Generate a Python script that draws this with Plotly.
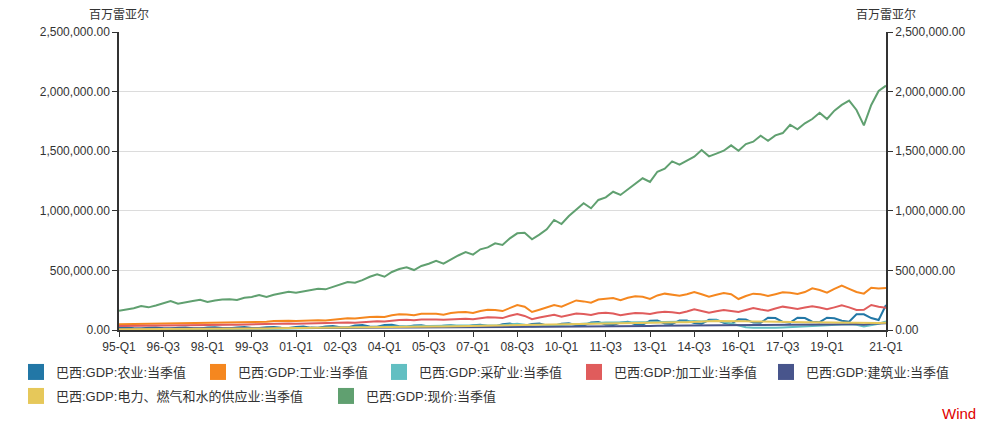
import plotly.graph_objects as go

# ---------------- data ----------------
quarters = [f"{y % 100:02d}-Q{q}" for y in range(1995, 2022) for q in range(1, 5)][:105]

tick_labels = ["95-Q1", "96-Q3", "98-Q1", "99-Q3", "01-Q1", "02-Q3", "04-Q1", "05-Q3",
               "07-Q1", "08-Q3", "10-Q1", "11-Q3", "13-Q1", "14-Q3", "16-Q1", "17-Q3",
               "19-Q1", "21-Q1"]

series_names = [
    "巴西:GDP:农业:当季值",
    "巴西:GDP:工业:当季值",
    "巴西:GDP:采矿业:当季值",
    "巴西:GDP:加工业:当季值",
    "巴西:GDP:建筑业:当季值",
    "巴西:GDP:电力、燃气和水的供应业:当季值",
    "巴西:GDP:现价:当季值",
]

# values in thousands of millions of BRL (multiplied by 1000 when drawn)
agri = [18, 20, 14, 12, 18, 22, 15, 13, 19, 22, 15, 13, 20, 23, 16, 14,
        22, 25, 17, 16, 23, 26, 18, 16, 26, 30, 20, 19, 30, 34, 24, 22,
        38, 42, 30, 28, 42, 44, 32, 28, 38, 40, 30, 27, 36, 40, 31, 28,
        40, 45, 33, 30, 48, 55, 38, 35, 50, 55, 38, 35, 52, 57, 40, 38,
        62, 66, 46, 42, 62, 68, 48, 44, 78, 80, 55, 50, 80, 80, 58, 52,
        85, 86, 60, 50, 90, 88, 62, 60, 103, 100, 68, 62, 103, 100, 70, 66,
        103, 98, 78, 70, 132, 132, 100, 84, 210]

industry = [48, 49, 51, 52, 50, 54, 56, 57, 55, 58, 60, 61, 58, 60, 62, 62,
            61, 64, 67, 70, 69, 75, 78, 78, 76, 79, 81, 82, 80, 88, 92, 98,
            96, 104, 110, 112, 110, 124, 132, 130, 123, 137, 138, 137, 128, 142, 148, 150,
            143, 160, 170, 168, 159, 185, 210, 195, 151, 170, 190, 210, 196, 225, 248, 240,
            229, 255, 262, 268, 249, 270, 283, 278, 260, 290, 305, 295, 288, 300, 319, 300,
            280, 295, 310, 300, 260, 285, 305, 300, 285, 300, 316, 312, 302, 318, 350, 335,
            313, 345, 372, 345, 319, 305, 355, 348, 352]

mining = [4, 4, 4, 4, 4, 4, 5, 5, 5, 5, 5, 5, 5, 5, 5, 5,
          6, 7, 8, 9, 10, 11, 12, 13, 13, 14, 14, 14, 14, 16, 18, 20,
          21, 22, 22, 22, 22, 24, 26, 28, 30, 32, 34, 34, 36, 38, 38, 36,
          34, 34, 36, 38, 40, 46, 52, 44, 30, 32, 36, 40, 42, 46, 48, 50,
          55, 60, 62, 62, 64, 64, 64, 66, 64, 64, 68, 70, 70, 72, 76, 72,
          80, 82, 70, 55, 38, 24, 18, 16, 16, 18, 20, 24, 28, 32, 36, 40,
          42, 44, 46, 48, 44, 30, 40, 52, 72]

manufacturing = [34, 35, 37, 38, 36, 38, 40, 41, 39, 42, 44, 44, 42, 43, 45, 45,
                 44, 46, 49, 51, 50, 53, 55, 55, 53, 55, 57, 57, 55, 58, 60, 62,
                 61, 66, 70, 73, 72, 80, 84, 85, 82, 88, 90, 89, 85, 90, 93, 94,
                 90, 100, 106, 104, 100, 120, 134, 118, 90, 105, 118, 128, 112, 128, 138, 135,
                 126, 140, 145, 138, 123, 135, 143, 140, 134, 146, 154, 148, 140, 155, 174, 160,
                 145, 158, 168, 160, 151, 168, 185, 172, 162, 180, 196, 186, 176, 188, 199, 188,
                 174, 190, 207, 190, 168, 170, 210, 195, 187]

construction = [10, 11, 12, 12, 12, 12, 13, 13, 13, 13, 14, 14, 14, 14, 14, 14,
                14, 14, 15, 15, 15, 15, 16, 16, 16, 16, 17, 17, 17, 17, 18, 18,
                18, 18, 19, 19, 19, 20, 20, 21, 21, 21, 22, 22, 22, 23, 23, 24,
                24, 24, 25, 25, 25, 26, 27, 27, 26, 27, 28, 28, 28, 29, 30, 30,
                30, 31, 32, 32, 32, 33, 34, 34, 34, 35, 36, 36, 36, 37, 38, 38,
                38, 39, 40, 40, 40, 41, 42, 42, 42, 43, 44, 44, 44, 45, 46, 46,
                46, 47, 48, 48, 50, 44, 52, 56, 56]

utilities = [7, 7, 7, 8, 8, 8, 9, 9, 9, 9, 10, 10, 10, 10, 11, 11,
             11, 12, 12, 13, 13, 14, 15, 15, 15, 16, 17, 18, 18, 19, 20, 21,
             21, 22, 23, 24, 24, 25, 26, 27, 27, 28, 29, 30, 30, 31, 32, 33,
             33, 34, 35, 36, 36, 37, 38, 38, 38, 40, 42, 44, 44, 45, 46, 47,
             48, 50, 52, 54, 54, 55, 56, 57, 58, 60, 62, 63, 64, 66, 70, 72,
             74, 75, 76, 76, 74, 73, 72, 72, 70, 69, 68, 68, 66, 66, 65, 64,
             63, 62, 62, 61, 58, 54, 56, 58, 60]

gdp_total = [162, 172, 182, 201, 190, 205, 225, 243, 221, 235, 243, 254, 235, 248, 256, 257,
             252, 271, 277, 294, 277, 295, 311, 321, 313, 325, 338, 346, 341, 363, 382, 403,
             397, 418, 447, 467, 447, 487, 512, 526, 503, 537, 556, 581, 556, 593, 625, 654,
             632, 677, 693, 727, 713, 769, 811, 816, 761, 800, 845, 923, 889, 956, 1010, 1063,
             1021, 1091, 1113, 1160, 1133, 1180, 1230, 1273, 1242, 1328, 1353, 1415, 1387, 1420, 1454, 1510,
             1457, 1480, 1504, 1549, 1504, 1560, 1580, 1630, 1588, 1633, 1652, 1722, 1683, 1734, 1770, 1823,
             1770, 1840, 1888, 1924, 1846, 1717, 1888, 2005, 2050]

series_values = [agri, industry, mining, manufacturing, construction, utilities, gdp_total]
colors = ["#2277a6", "#f5871f", "#62bfc2", "#e05c5c", "#48558c", "#e6c85a", "#60a070"]

# ---------------- figure ----------------
fig = go.Figure()

for name, vals, col in zip(series_names, series_values, colors):
    fig.add_trace(go.Scatter(
        x=quarters, y=[v * 1000 for v in vals], mode="lines", name=name,
        line=dict(color=col, width=2), showlegend=False,
        hovertemplate="%{x}<br>%{y:,.2f}<extra>" + name + "</extra>",
    ))

# legend entries as square swatches, one legend per entry to mimic the free-flow layout
legend_ids = ["legend", "legend2", "legend3", "legend4", "legend5", "legend6", "legend7"]
for name, col, lid in zip(series_names, colors, legend_ids):
    fig.add_trace(go.Scatter(
        x=[None], y=[None], mode="markers", name=name, legend=lid,
        marker=dict(symbol="square", size=16, color=col), showlegend=True,
    ))

# invisible trace to activate the right-hand axis
fig.add_trace(go.Scatter(x=quarters, y=[v * 1000 for v in gdp_total], yaxis="y2",
                         mode="lines", line=dict(width=0), opacity=0,
                         showlegend=False, hoverinfo="skip"))

axis_font = dict(family="Liberation Sans, Noto Sans CJK SC, sans-serif", size=12, color="#333333")

W, H = 1005, 434
# swatch centre positions of the legend entries (pixels)
legend_pos = [(36, 372), (218, 372), (399, 372), (594, 372), (786, 372),
              (36, 396), (346, 396)]
legend_layout = {}
for lid, (cx, cy) in zip(legend_ids, legend_pos):
    legend_layout[lid] = dict(
        xref="container", yref="container",
        x=(cx - 20) / W, xanchor="left",
        y=1 - cy / H, yanchor="middle",
        orientation="h", bgcolor="rgba(0,0,0,0)",
        font=dict(size=13, color="#333333"), itemclick=False, itemdoubleclick=False,
    )

fig.update_layout(
    width=W, height=H,
    margin=dict(l=119, r=119, t=32, b=104, autoexpand=False),
    paper_bgcolor="white", plot_bgcolor="white",
    font=dict(family="Liberation Sans, Noto Sans CJK SC, sans-serif", size=13, color="#333333"),
    xaxis=dict(
        type="category", categoryorder="array", categoryarray=quarters,
        range=[0, 104], tickmode="array", tickvals=tick_labels, ticktext=tick_labels,
        showline=True, linecolor="#333333", linewidth=1.5,
        ticks="outside", ticklen=5, tickcolor="#333333",
        showgrid=False, tickfont=axis_font, zeroline=False,
    ),
    yaxis=dict(
        range=[0, 2500000], dtick=500000, tickformat=",.2f",
        showline=True, linecolor="#333333", linewidth=1.5,
        ticks="outside", ticklen=5, tickcolor="#333333",
        showgrid=True, gridcolor="#dcdcdc", gridwidth=1,
        zeroline=False, tickfont=axis_font,
    ),
    yaxis2=dict(
        range=[0, 2500000], dtick=500000, tickformat=",.2f",
        overlaying="y", side="right",
        showline=True, linecolor="#333333", linewidth=1.5,
        ticks="outside", ticklen=5, tickcolor="#333333",
        showgrid=False, zeroline=False, tickfont=axis_font,
    ),
    annotations=[
        dict(text="百万雷亚尔", xref="paper", yref="paper", x=0, y=1, xshift=0,
             yshift=8, xanchor="center", yanchor="bottom", showarrow=False,
             font=dict(size=12, color="#333333")),
        dict(text="百万雷亚尔", xref="paper", yref="paper", x=1, y=1, xshift=0,
             yshift=8, xanchor="center", yanchor="bottom", showarrow=False,
             font=dict(size=12, color="#333333")),
        dict(text="Wind", xref="paper", yref="paper", x=(978 - 119) / 767,
             y=(330 - 413) / 298, xanchor="right", yanchor="middle", showarrow=False,
             font=dict(size=15, color="#e00000")),
    ],
    **legend_layout,
)

fig.write_html("out.html", config={"displayModeBar": False},
               post_script="document.body.style.margin='0px';")
